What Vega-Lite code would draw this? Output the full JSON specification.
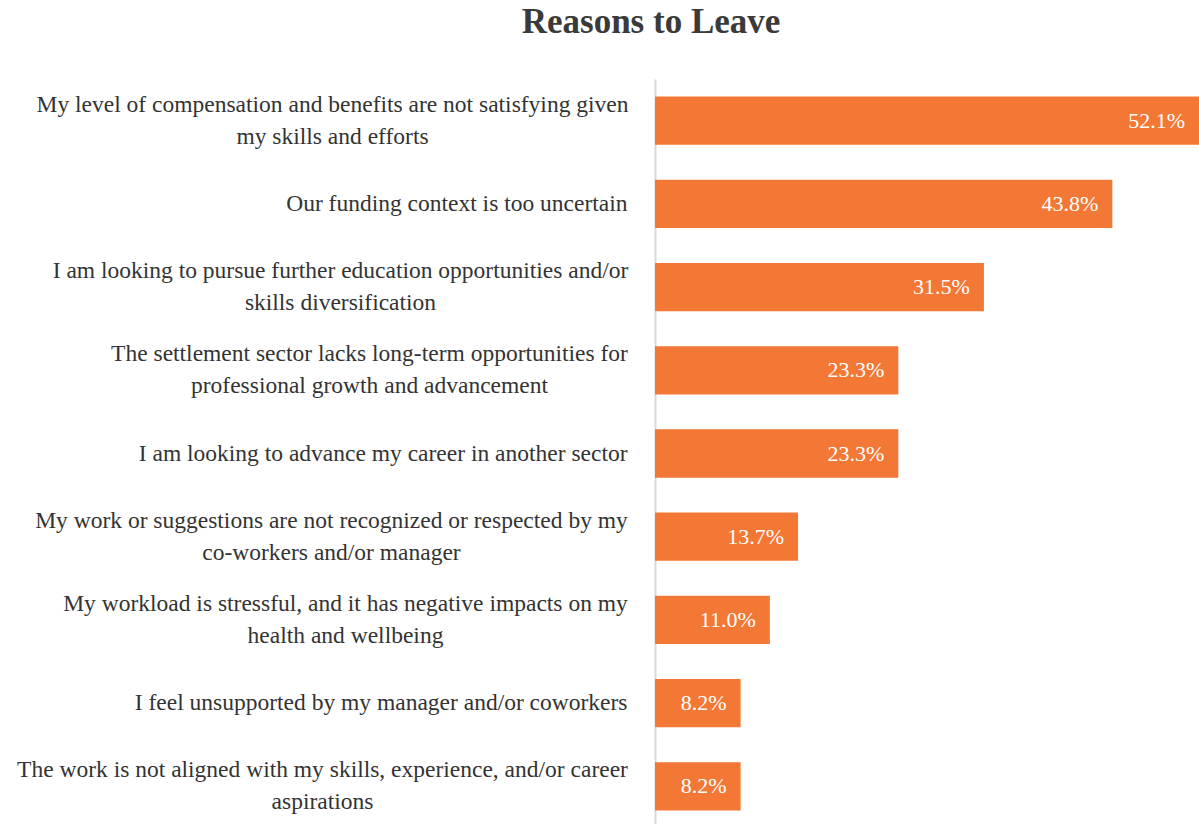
{
  "$schema": "https://vega.github.io/schema/vega-lite/v6.json",
  "autosize": "none",
  "width": 544,
  "height": 749,
  "padding": {"left": 655, "top": 79, "right": 0, "bottom": 0},
  "background": "white",
  "config": {"view": {"stroke": null}, "font": "Liberation Serif"},
  "title": {
    "text": "Reasons to Leave",
    "anchor": "middle",
    "frame": "group",
    "dx": -276,
    "offset": 39,
    "font": "Liberation Serif",
    "fontSize": 35,
    "fontWeight": "bold",
    "color": "#3a3a3a"
  },
  "data": {
    "values": [
      {"reason": "My level of compensation and benefits are not satisfying given|my skills and efforts", "pct": 0.521},
      {"reason": "Our funding context is too uncertain", "pct": 0.438},
      {"reason": "I am looking to pursue further education opportunities and/or|skills diversification", "pct": 0.315},
      {"reason": "The settlement sector lacks long-term opportunities for|professional growth and advancement", "pct": 0.233},
      {"reason": "I am looking to advance my career in another sector", "pct": 0.233},
      {"reason": "My work or suggestions are not recognized or respected by my|co-workers and/or manager", "pct": 0.137},
      {"reason": "My workload is stressful, and it has negative impacts on my|health and wellbeing", "pct": 0.110},
      {"reason": "I feel unsupported by my manager and/or coworkers", "pct": 0.082},
      {"reason": "The work is not aligned with my skills, experience, and/or career|aspirations", "pct": 0.082}
    ]
  },
  "encoding": {
    "y": {
      "field": "reason",
      "type": "nominal",
      "sort": null,
      "scale": {"paddingInner": 0.42, "paddingOuter": 0.21},
      "axis": {
        "title": null,
        "labelExpr": "split(datum.label, '|')",
        "labelLimit": 700,
        "labelFont": "Liberation Serif",
        "labelFontSize": 23.5,
        "labelLineHeight": 32,
        "labelColor": "#333333",
        "labelAlign": {"condition": {"test": "indexof(datum.value, '|') >= 0", "value": "center"}, "value": "right"},
        "labelOffset": {"condition": {"test": "indexof(datum.value, '|') >= 0", "value": -16}, "value": 0},
        "labelBaseline": "middle",
        "labelPadding": {
          "condition": [
            {"test": "indexof(datum.value, 'My level') == 0", "value": 323},
            {"test": "indexof(datum.value, 'I am looking to pursue') == 0", "value": 315},
            {"test": "indexof(datum.value, 'The settlement') == 0", "value": 286},
            {"test": "indexof(datum.value, 'My work or') == 0", "value": 324},
            {"test": "indexof(datum.value, 'My workload') == 0", "value": 310},
            {"test": "indexof(datum.value, 'The work is') == 0", "value": 333}
          ],
          "value": 28
        },
        "ticks": false,
        "domainColor": "#d9d9d9",
        "domainWidth": 2
      }
    },
    "x": {
      "field": "pct",
      "type": "quantitative",
      "scale": {"domain": [0, 0.521], "nice": false},
      "axis": null
    }
  },
  "layer": [
    {"mark": {"type": "bar", "color": "#F37735"}},
    {
      "mark": {"type": "text", "align": "right", "baseline": "middle", "dx": -14, "color": "white", "font": "Liberation Serif", "fontSize": 22},
      "encoding": {"text": {"field": "pct", "type": "quantitative", "format": ".1%"}}
    }
  ]
}
